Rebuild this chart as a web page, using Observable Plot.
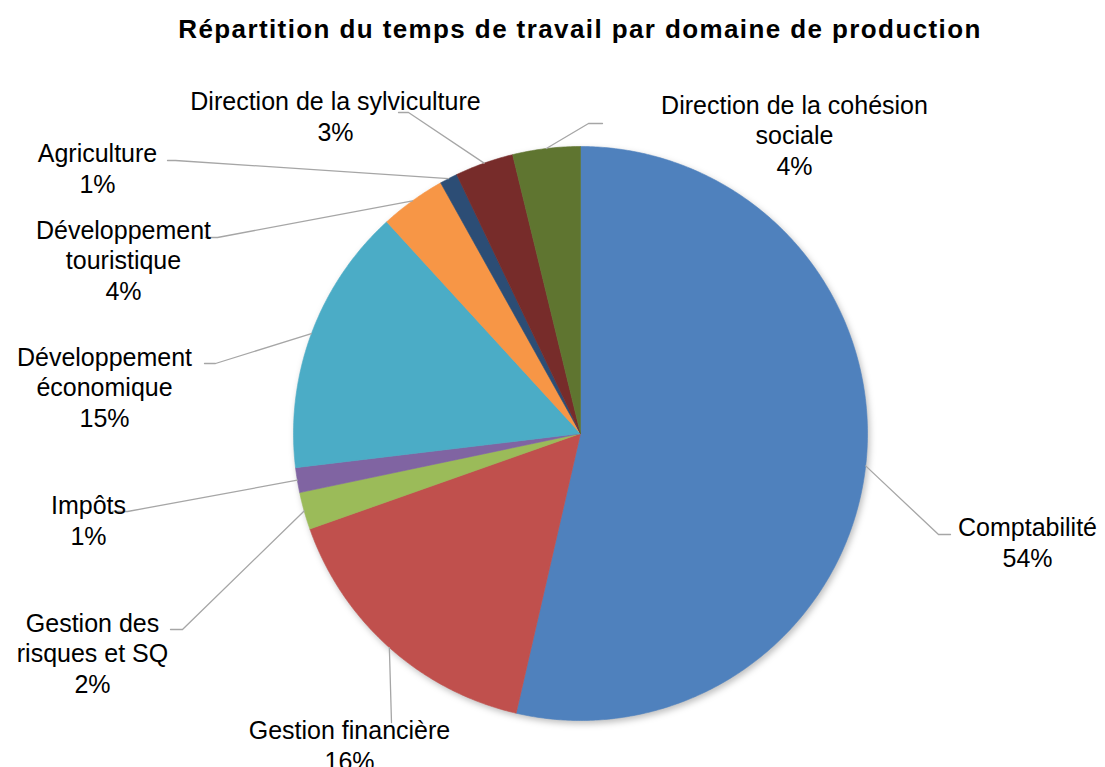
<!DOCTYPE html>
<html>
<head>
<meta charset="utf-8">
<script src="https://cdn.jsdelivr.net/npm/d3@7"></script>
<script src="https://cdn.jsdelivr.net/npm/@observablehq/plot@0.6"></script>
<style>
  html, body { margin: 0; padding: 0; background: #fff; }
  #wrap { width: 1105px; height: 767px; position: relative; overflow: hidden; }
  #title { height: 60px; position: relative; }
  #title span {
    position: absolute; top: 14px; left: 580px; transform: translateX(-50%);
    white-space: nowrap; font-family: "Liberation Sans", Arial, sans-serif;
    font-weight: bold; font-size: 26px; letter-spacing: 1.4px; color: #000;
  }
</style>
</head>
<body>
<div id="wrap">
  <div id="title"><span>Répartition du temps de travail par domaine de production</span></div>
  <div id="chart"></div>
</div>
<script>
// ---- data ----
const categories = [
  "Comptabilité", "Gestion financière", "Gestion des risques et SQ", "Impôts",
  "Développement économique", "Développement touristique", "Agriculture",
  "Direction de la sylviculture", "Direction de la cohésion sociale"
];
const values = [53.6, 16.0, 2.1, 1.4, 15.1, 3.7, 1.0, 3.3, 3.8];
const labelText = [
  "Comptabilité", "Gestion financière", "Gestion des\nrisques et SQ", "Impôts",
  "Développement\néconomique", "Développement\ntouristique", "Agriculture",
  "Direction de la sylviculture", "Direction de la cohésion\nsociale"
];
const colors = ["#4F81BD", "#C0504D", "#9BBB59", "#8064A2", "#4BACC6",
                "#F79646", "#2C4D75", "#772C2A", "#5F7530"];

// ---- layout (pixel offsets from pie centre) ----
const R = 287;
const labelPos = [[447,108],[-231,311],[-488,219],[-492,86],[-476,-47],[-457,-174],[-483,-266],[-245,-318],[214,-299]];
const elbows   = [[358,101],[-189,289],[-398,196],[-453,78],[-365,-70],[-363,-196],[-405,-273],[-172,-321],[8,-310]];
const ends     = [[370,101],[-189,289],[-410,196],[-468,78],[-376,-70],[-375,-196],[-413,-273],[-182,-321],[22,-310]];

const total = d3.sum(values);
const arcs = d3.pie().sort(null).value(d => d)(values);
const pt = (a, r) => [r * Math.sin(a), -r * Math.cos(a)];

const slicePts = [];
arcs.forEach((a, i) => {
  const n = Math.max(2, Math.ceil((a.endAngle - a.startAngle) / (Math.PI / 360)));
  slicePts.push({name: categories[i], x: 0, y: 0});
  for (let k = 0; k <= n; k++) {
    const t = a.startAngle + (a.endAngle - a.startAngle) * k / n;
    const [x, y] = pt(t, R);
    slicePts.push({name: categories[i], x, y});
  }
  slicePts.push({name: categories[i], x: 0, y: 0});
});

const leaderPts = [];
arcs.forEach((a, i) => {
  const mid = (a.startAngle + a.endAngle) / 2;
  const [x0, y0] = pt(mid, R);
  leaderPts.push({name: categories[i], x: x0, y: y0});
  leaderPts.push({name: categories[i], x: elbows[i][0], y: elbows[i][1]});
  leaderPts.push({name: categories[i], x: ends[i][0], y: ends[i][1]});
});

const labels = categories.map((c, i) => ({
  name: c,
  text: labelText[i] + "\n" + Math.round(values[i] / total * 100) + "%",
  x: labelPos[i][0], y: labelPos[i][1]
}));

const chart = Plot.plot({
  width: 1105, height: 707, margin: 0,
  x: {domain: [-580, 525], range: [0, 1105], axis: null},
  y: {domain: [-373, 334], range: [0, 707], axis: null},
  color: {domain: categories, range: colors},
  style: {fontFamily: "'Liberation Sans', Arial, sans-serif", background: "#fff"},
  marks: [
    Plot.line(slicePts, {x: "x", y: "y", z: "name", fill: "name", stroke: "name", strokeWidth: 0.6, curve: "linear"}),
    Plot.line(leaderPts, {x: "x", y: "y", z: "name", stroke: "#A6A6A6", strokeWidth: 1.3}),
    Plot.text(labels, {x: "x", y: "y", text: "text", fontSize: 25, lineHeight: 1.22,
      textAnchor: "middle", lineAnchor: "middle", fill: "#000"})
  ]
});
const pie = chart.querySelector('g[aria-label="line"]');
if (pie) pie.style.filter = "drop-shadow(2px 3px 3px rgba(0,0,0,0.25))";
document.getElementById("chart").appendChild(chart);
</script>
</body>
</html>
